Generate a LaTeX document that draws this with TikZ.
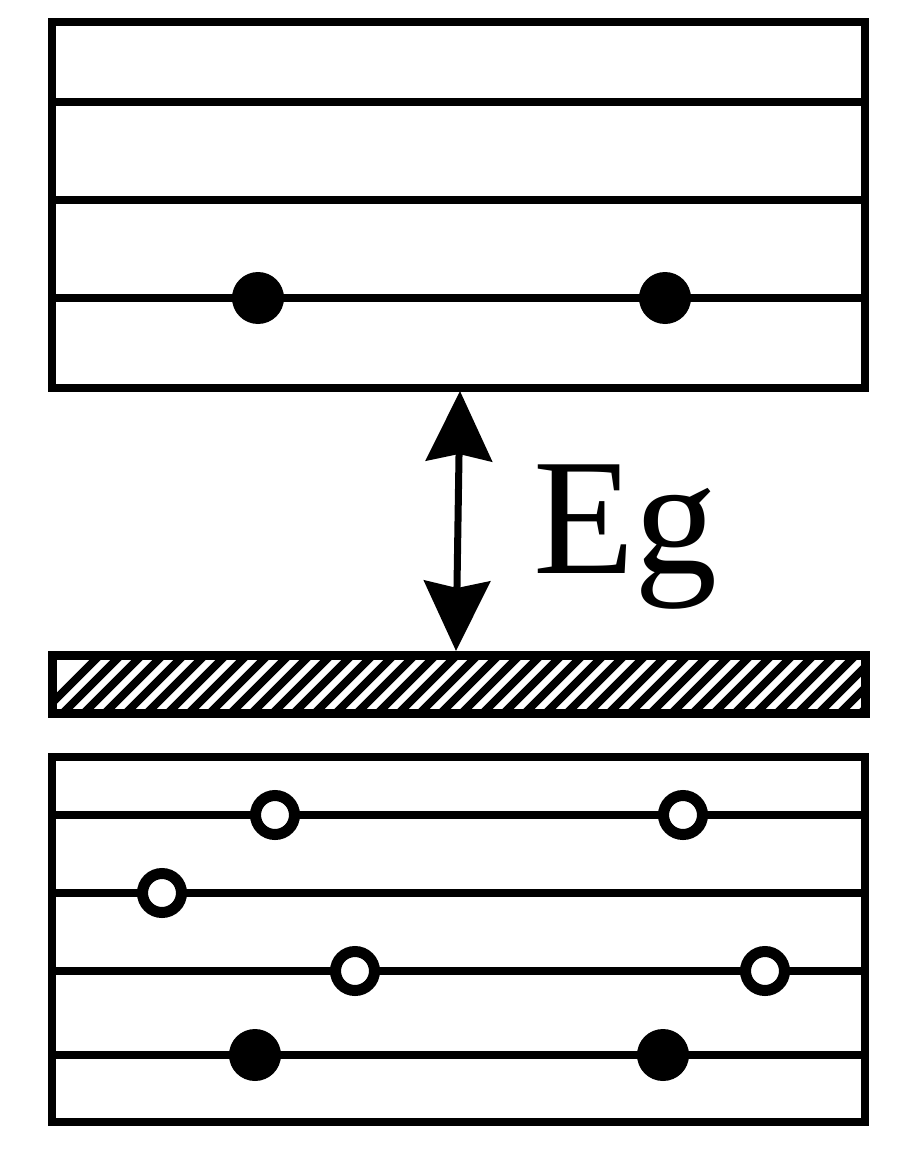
\documentclass[tikz,border=0pt]{standalone}
\usepackage{fontspec}
\newfontfamily\tnr{LiberationSerif-Regular.ttf}
\usetikzlibrary{arrows.meta}
\begin{document}
\begin{tikzpicture}[x=1pt,y=-1pt,
  frame/.style={line width=8pt},
  level/.style={line width=8pt},
  full/.style={circle,fill=black,inner sep=0pt,minimum size=52pt},
  hole/.style={circle,draw=black,fill=white,line width=11pt,inner sep=0pt,minimum size=39pt}]
\useasboundingbox (0,0) rectangle (900,1150);
% top box
\draw[frame] (52,22) rectangle (865,388);
\foreach \y in {102,200,298} \draw[level] (52,\y) -- (865,\y);
\node[full] (t1) at (258,298) {};
\node[full] (t2) at (665,298) {};
% hatched band
\begin{scope}
\clip (52,655) rectangle (865,713);
\foreach \i in {0,...,42} \draw[line width=8pt] ({30+21*\i},725) -- ({30+21*\i+80},645);
\end{scope}
\draw[line width=9pt] (52,655) rectangle (865,713);
% bottom box
\draw[frame] (52,757) rectangle (865,1122);
\foreach \y in {815,893,971,1055} \draw[level] (52,\y) -- (865,\y);
\node[hole] (h1) at (275,815) {};
\node[hole] (h2) at (683,815) {};
\node[hole] (h3) at (162,893) {};
\node[hole] (h4) at (355,971) {};
\node[hole] (h5) at (765,971) {};
\node[full] (b1) at (255,1055) {};
\node[full] (b2) at (663,1055) {};
% arrow
\coordinate (atop) at (460,391);
\coordinate (abot) at (456,651);
\draw[line width=7pt,{Stealth[length=70pt,width=66pt,inset=7pt]}-{Stealth[length=70pt,width=66pt,inset=7pt]}] (atop) -- (abot);
\node[anchor=base west,inner sep=0pt,font=\tnr\fontsize{166}{166}\selectfont] (eg) at (533,573) {Eg};
\end{tikzpicture}
\end{document}
